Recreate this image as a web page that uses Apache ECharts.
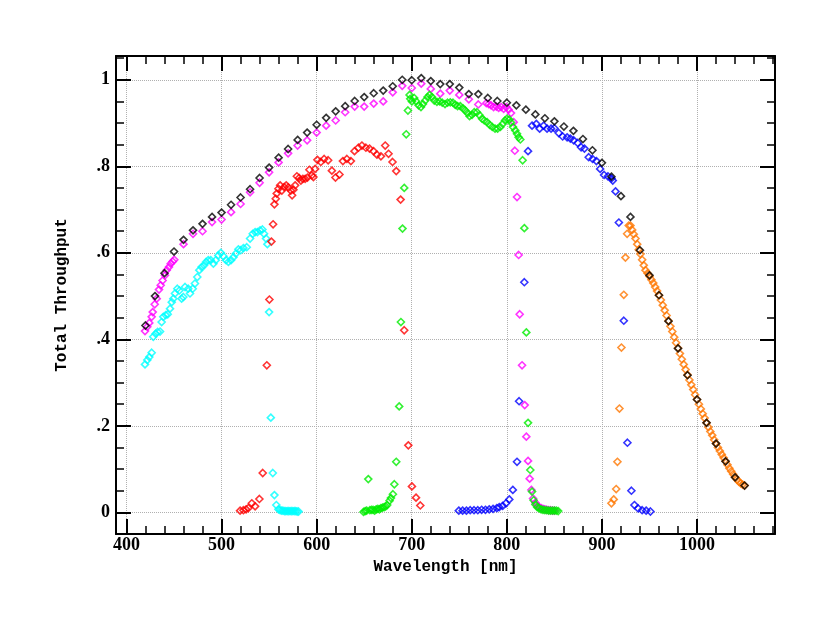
<!DOCTYPE html>
<html>
<head>
<meta charset="utf-8">
<script src="https://cdn.jsdelivr.net/npm/echarts@6/dist/echarts.min.js"></script>
<style>
  html, body { margin: 0; padding: 0; background: #fff; }
  #chart { width: 831px; height: 629px; }
</style>
</head>
<body>
<div id="chart"></div>
<script>
// [wavelength nm, throughput]
const black = [
  [420, 0.432], [430, 0.500], [440, 0.553], [450, 0.603], [460, 0.630], [470, 0.652],
  [480, 0.667], [490, 0.683], [500, 0.693], [510, 0.711], [520, 0.728], [530, 0.747],
  [540, 0.773], [550, 0.797], [560, 0.820], [570, 0.840], [580, 0.861], [590, 0.878],
  [600, 0.896], [610, 0.912], [620, 0.927], [630, 0.939], [640, 0.951], [650, 0.960],
  [660, 0.969], [670, 0.975], [680, 0.985], [690, 1.000], [700, 0.999], [710, 1.004],
  [720, 0.997], [730, 0.990], [740, 0.990], [750, 0.982], [760, 0.967], [770, 0.967],
  [780, 0.958], [790, 0.951], [800, 0.947], [810, 0.941], [820, 0.931], [830, 0.920],
  [840, 0.911], [850, 0.904], [860, 0.892], [870, 0.882], [880, 0.863], [890, 0.837],
  [900, 0.808], [910, 0.776], [920, 0.731], [930, 0.683], [940, 0.606], [950, 0.548],
  [960, 0.502], [970, 0.442], [980, 0.379], [990, 0.317], [1000, 0.261], [1010, 0.207],
  [1020, 0.159], [1030, 0.118], [1040, 0.081], [1050, 0.062]
];

const magenta = [
  [419.5, 0.419], [421.9, 0.429], [424, 0.438], [426.5, 0.452], [427.6, 0.463], [429.7, 0.481],
  [431.8, 0.494], [434.2, 0.515], [436, 0.525], [438, 0.536], [440.5, 0.548], [442.3, 0.56],
  [444.7, 0.567], [446.5, 0.575], [448.6, 0.58], [450.3, 0.584], [460, 0.62], [470, 0.644],
  [480, 0.65], [490, 0.671], [500, 0.677], [510, 0.694], [520, 0.713], [530, 0.74],
  [540, 0.762], [550, 0.786], [560, 0.809], [570, 0.83], [580, 0.848], [590, 0.86],
  [600, 0.878], [610, 0.894], [620, 0.906], [630, 0.925], [640, 0.938], [650, 0.938],
  [660, 0.945], [670, 0.95], [680, 0.971], [690, 0.986], [700, 0.981], [710, 0.991],
  [720, 0.979], [730, 0.968], [740, 0.975], [750, 0.965], [760, 0.955], [770, 0.943],
  [778.4, 0.946], [780.9, 0.944], [783.4, 0.941], [786.1, 0.937], [789, 0.938], [791.4, 0.935],
  [794, 0.937], [796.7, 0.933], [799.5, 0.937], [801.9, 0.931], [804.4, 0.923], [807.2, 0.902],
  [808.4, 0.836], [810.7, 0.729], [812.4, 0.595], [813.5, 0.458], [816, 0.34], [818.8, 0.248],
  [820.5, 0.175], [822.3, 0.119], [824, 0.078], [825.8, 0.052], [827.6, 0.032], [830, 0.022],
  [832, 0.016], [834, 0.012], [836, 0.01], [838, 0.008], [840, 0.007], [842, 0.006],
  [844, 0.005], [846, 0.005], [848, 0.004], [850, 0.004]
];

const cyan = [
  [419.5, 0.342], [421.9, 0.352], [424, 0.359], [426.5, 0.369], [428.2, 0.406], [430.7, 0.413],
  [432.8, 0.417], [435.3, 0.418], [437, 0.44], [438.7, 0.452], [441.3, 0.456], [443.4, 0.458],
  [445.8, 0.471], [447.6, 0.486], [449.3, 0.494], [451, 0.506], [453.5, 0.517], [455.6, 0.513],
  [458, 0.494], [459.8, 0.498], [461.6, 0.521], [465, 0.517], [466.8, 0.506], [469.7, 0.517],
  [472, 0.529], [474.5, 0.544], [476.6, 0.56], [479, 0.567], [481.6, 0.571], [483.7, 0.579],
  [486, 0.583], [488.6, 0.583], [491.4, 0.575], [493.9, 0.583], [496.6, 0.594], [499.2, 0.6],
  [502, 0.592], [504.7, 0.583], [507.2, 0.579], [510, 0.583], [512.5, 0.59], [515, 0.598],
  [517.7, 0.608], [520.2, 0.606], [523, 0.611], [526.5, 0.613], [530, 0.633], [532.8, 0.644],
  [535.3, 0.648], [537.7, 0.648], [540.5, 0.652], [543, 0.654], [544.7, 0.644], [546.8, 0.633],
  [548.2, 0.62], [550, 0.463], [551.8, 0.219], [553.9, 0.091], [555.6, 0.04], [557.6, 0.017],
  [559.8, 0.007], [561.5, 0.005], [563, 0.004], [564.5, 0.004], [566, 0.003], [567.5, 0.003],
  [569, 0.003], [570.5, 0.003], [572, 0.003], [573.5, 0.003], [575, 0.003], [576.5, 0.003],
  [578, 0.003], [579.5, 0.002], [581, 0.002]
];

const red = [
  [519.5, 0.004], [523, 0.005], [525.8, 0.007], [528.2, 0.01], [531.8, 0.021], [535.3, 0.014],
  [539.8, 0.031], [543.3, 0.091], [547.6, 0.34], [550.3, 0.492], [552.4, 0.626], [554.2, 0.666],
  [555.6, 0.712], [557, 0.725], [558, 0.737], [559.8, 0.748], [561.6, 0.756], [563.4, 0.744],
  [565.8, 0.752], [568, 0.756], [570.3, 0.751], [572.8, 0.744], [574.2, 0.733], [575.6, 0.746],
  [577.4, 0.756], [579.2, 0.777], [581.6, 0.773], [583.4, 0.767], [585.5, 0.771], [587.9, 0.771],
  [590.3, 0.774], [592.4, 0.792], [595, 0.779], [596.6, 0.775], [598.4, 0.794], [600.8, 0.815],
  [604.4, 0.81], [607.9, 0.817], [612.1, 0.814], [616, 0.79], [619.8, 0.774], [624, 0.781],
  [627.6, 0.812], [631.8, 0.817], [636, 0.812], [639.8, 0.835], [644, 0.843], [647.6, 0.848],
  [651.8, 0.843], [655.6, 0.841], [659.8, 0.835], [663.4, 0.827], [667.6, 0.823], [672.1, 0.848],
  [675.6, 0.829], [679.8, 0.81], [683.7, 0.789], [688.3, 0.723], [692.1, 0.421], [696.4, 0.155],
  [700.2, 0.06], [704.5, 0.034], [709, 0.016]
];

const green = [
  [649.3, 0.001], [651, 0.003], [652.6, 0.004], [654.3, 0.077], [656, 0.005], [657.6, 0.006],
  [659.3, 0.006], [661, 0.004], [662.6, 0.007], [664.3, 0.008], [666, 0.007], [667.6, 0.01],
  [669.3, 0.011], [671, 0.012], [672.6, 0.014], [674.2, 0.017], [676.7, 0.027], [678.1, 0.033],
  [680.2, 0.042], [681.7, 0.065], [683.7, 0.117], [686.8, 0.245], [688.6, 0.44], [690.3, 0.656],
  [692.1, 0.75], [694.2, 0.874], [696, 0.929], [697.7, 0.965], [698.4, 0.956], [700.2, 0.95],
  [702.6, 0.958], [704.7, 0.95], [707.2, 0.941], [709.7, 0.937], [711.8, 0.944], [714.2, 0.952],
  [716.6, 0.96], [718.7, 0.965], [721.3, 0.96], [723.7, 0.952], [726.5, 0.949], [729.3, 0.95],
  [732.1, 0.947], [735, 0.944], [737.7, 0.947], [740.5, 0.948], [743.4, 0.947], [745.8, 0.942],
  [748.2, 0.939], [751, 0.939], [753.9, 0.934], [756.3, 0.929], [758.7, 0.923], [760.8, 0.916],
  [763.4, 0.919], [765.8, 0.925], [768.6, 0.925], [771.4, 0.918], [773.9, 0.91], [776.3, 0.906],
  [779.2, 0.902], [781.9, 0.896], [784.7, 0.891], [787.6, 0.887], [790.3, 0.887], [793.2, 0.891],
  [795.6, 0.898], [798.1, 0.906], [800.2, 0.91], [802.6, 0.908], [804.4, 0.901], [806.5, 0.891],
  [808.9, 0.883], [810.7, 0.875], [812.4, 0.867], [814.2, 0.862], [816.6, 0.814], [818.4, 0.657],
  [820.5, 0.416], [822.3, 0.207], [824.7, 0.098], [826.5, 0.048], [828.2, 0.028], [830, 0.018],
  [832, 0.012], [834, 0.009], [836, 0.007], [838, 0.006], [840, 0.005], [842, 0.005],
  [844, 0.004], [846, 0.004], [848, 0.004], [850, 0.004], [852, 0.004], [854, 0.003]
];

const blue = [
  [749.5, 0.004], [753.5, 0.004], [757.5, 0.004], [761.5, 0.005], [765.5, 0.005], [769.5, 0.005],
  [773.5, 0.006], [777.5, 0.006], [781.5, 0.007], [785.5, 0.008], [789.5, 0.01], [792, 0.012],
  [795.6, 0.015], [799.1, 0.021], [802.6, 0.03], [806.3, 0.052], [810.7, 0.117], [812.9, 0.257],
  [818.4, 0.532], [822.3, 0.835], [826.5, 0.894], [831, 0.898], [834.5, 0.887], [838.7, 0.894],
  [842.3, 0.887], [846.5, 0.887], [850, 0.888], [854.6, 0.877], [858.7, 0.869], [863.4, 0.867],
  [866.8, 0.864], [870.3, 0.86], [874.5, 0.854], [878.1, 0.844], [881.6, 0.841], [886.1, 0.821],
  [890.2, 0.817], [894.2, 0.812], [898.1, 0.794], [902.3, 0.78], [906.3, 0.777], [910, 0.772],
  [911.4, 0.767], [914.3, 0.742], [917.8, 0.67], [923, 0.443], [926.8, 0.161], [931, 0.05],
  [934.2, 0.017], [938.1, 0.009], [942.3, 0.005], [946.5, 0.004], [951, 0.002]
];

const orange = [
  [910, 0.021], [912.4, 0.03], [915, 0.054], [916.3, 0.117], [918.4, 0.24], [920.5, 0.381],
  [923, 0.503], [924.7, 0.589], [926.5, 0.644], [928.2, 0.663], [930, 0.663], [931.8, 0.653],
  [933.5, 0.643], [935.3, 0.633], [937.1, 0.62], [938.7, 0.607], [940.5, 0.597], [942.3, 0.584],
  [944, 0.571], [945.8, 0.56], [948, 0.553], [950, 0.546], [952, 0.538], [954, 0.53],
  [956, 0.521], [958, 0.512], [960, 0.502], [962, 0.491], [964, 0.479], [966, 0.467],
  [968, 0.455], [970, 0.443], [972, 0.43], [974, 0.418], [976, 0.405], [978, 0.392],
  [980, 0.38], [982, 0.367], [984, 0.354], [986, 0.342], [988, 0.33], [990, 0.318],
  [992, 0.306], [994, 0.295], [996, 0.284], [998, 0.272], [1000, 0.261], [1002, 0.25],
  [1004, 0.239], [1006, 0.228], [1008, 0.218], [1010, 0.207], [1012, 0.197], [1014, 0.187],
  [1016, 0.178], [1018, 0.168], [1020, 0.159], [1022, 0.15], [1024, 0.142], [1026, 0.134],
  [1028, 0.126], [1030, 0.118], [1032, 0.11], [1034, 0.102], [1036, 0.095], [1038, 0.088],
  [1040, 0.081], [1042, 0.076], [1044, 0.071], [1046, 0.067], [1048, 0.064], [1050, 0.062]
];

// drawn bottom to top
const seriesList = [
  { name: 'cyan', color: '#00ffff', data: cyan },
  { name: 'red', color: '#ff0000', data: red },
  { name: 'magenta', color: '#ff00ff', data: magenta },
  { name: 'green', color: '#00ee00', data: green },
  { name: 'blue', color: '#0000ff', data: blue },
  { name: 'orange', color: '#ff7700', data: orange },
  { name: 'black', color: '#000000', data: black },
];

const tickFont = {
  fontFamily: 'Liberation Serif',
  fontWeight: 'bold',
  fontSize: 18,
  color: '#000',
};
const titleFont = {
  fontFamily: 'Liberation Mono',
  fontWeight: 'bold',
  fontSize: 16,
  color: '#000',
};

function frameAxis(extra) {
  return {
    type: 'value',
    axisLine: { show: true, onZero: false, lineStyle: { color: '#000', width: 2 } },
    axisTick: { show: true, inside: true, length: 15, lineStyle: { color: '#000', width: 2 } },
    minorTick: { show: true, length: 8, lineStyle: { color: '#000', width: 1.5 } },
    splitLine: { show: false },
    axisLabel: { show: false },
    ...extra,
  };
}

const xFormat = (v) => String(Math.round(v));
const yFormat = (v) => {
  if (Math.abs(v) < 1e-9) return '0';
  if (Math.abs(v - 1) < 1e-9) return '1';
  return String(+v.toFixed(2)).replace(/^0\./, '.');
};

const chart = echarts.init(document.getElementById('chart'), null, { renderer: 'canvas' });
chart.setOption({
  animation: false,
  backgroundColor: '#fff',
  grid: { left: 116, right: 56, top: 56, bottom: 95 },
  xAxis: [
    frameAxis({
      position: 'bottom',
      min: 389,
      max: 1082,
      minorTick: { show: true, splitNumber: 5, length: 8, lineStyle: { color: '#000', width: 1.5 } },
      splitLine: { show: true, lineStyle: { type: 'dotted', color: '#b0b0b0', width: 1 } },
      axisLabel: { show: true, showMinLabel: false, showMaxLabel: false, margin: 2, formatter: xFormat, ...tickFont },
      name: 'Wavelength [nm]',
      nameLocation: 'middle',
      nameGap: 25,
      nameTextStyle: titleFont,
    }),
    frameAxis({
      position: 'top',
      min: 389,
      max: 1082,
      minorTick: { show: true, splitNumber: 5, length: 8, lineStyle: { color: '#000', width: 1.5 } },
    }),
  ],
  yAxis: [
    frameAxis({
      position: 'left',
      min: -0.05,
      max: 1.055,
      minorTick: { show: true, splitNumber: 4, length: 8, lineStyle: { color: '#000', width: 1.5 } },
      splitLine: { show: true, lineStyle: { type: 'dotted', color: '#b0b0b0', width: 1 } },
      axisLabel: { show: true, showMinLabel: false, showMaxLabel: false, margin: 6, formatter: yFormat, ...tickFont },
      name: 'Total Throughput',
      nameLocation: 'middle',
      nameGap: 46,
      nameTextStyle: titleFont,
    }),
    frameAxis({
      position: 'right',
      min: -0.05,
      max: 1.055,
      minorTick: { show: true, splitNumber: 4, length: 8, lineStyle: { color: '#000', width: 1.5 } },
    }),
  ],
  series: seriesList.map((s) => ({
    name: s.name,
    type: 'scatter',
    xAxisIndex: 0,
    yAxisIndex: 0,
    symbol: 'diamond',
    symbolSize: 7,
    itemStyle: { color: 'rgba(0,0,0,0)', borderColor: s.color, borderWidth: 1.6 },
    emphasis: { disabled: true },
    data: s.data,
  })),
});
</script>
</body>
</html>
